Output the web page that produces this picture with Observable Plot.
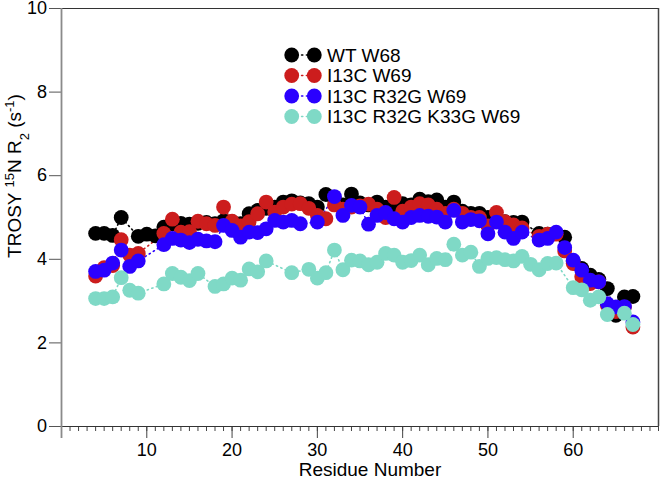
<!DOCTYPE html>
<html><head><meta charset="utf-8">
<script src="https://cdn.jsdelivr.net/npm/d3@7"></script>
<script src="https://cdn.jsdelivr.net/npm/@observablehq/plot@0.6"></script>
<style>body{margin:0;background:#fff} svg{display:block}</style>
</head><body><div id="chart"></div>
<script>
// Residue numbers 4..67
const residues = [4,5,6,7,8,9,10,11,12,13,14,15,16,17,18,19,20,21,22,23,24,25,26,27,28,29,30,31,32,33,34,35,36,37,38,39,40,41,42,43,44,45,46,47,48,49,50,51,52,53,54,55,56,57,58,59,60,61,62,63,64,65,66,67];

const wtW68 = [4.62,4.62,4.57,5.00,null,4.55,4.60,4.56,4.77,4.85,4.86,4.84,4.86,4.88,4.85,4.92,4.90,4.85,5.09,5.17,5.22,5.25,5.37,5.40,5.35,5.33,5.25,5.55,5.45,5.30,5.56,5.35,5.30,5.37,5.25,5.30,5.33,5.30,5.44,5.38,5.42,5.25,5.37,5.15,5.10,5.10,5.00,4.95,4.90,4.88,4.89,null,4.62,4.60,4.62,4.53,3.95,3.78,3.62,3.52,3.30,2.66,3.10,3.11];

const i13cW69 = [3.60,3.80,3.85,4.47,4.10,4.14,null,null,4.62,4.96,4.65,4.66,4.91,4.85,4.81,5.25,4.91,4.80,4.90,5.09,5.37,5.13,5.25,5.32,5.33,5.22,5.05,4.97,5.30,5.20,5.25,5.28,5.32,5.20,5.00,5.48,5.15,5.25,5.33,5.30,5.20,5.10,5.20,5.10,5.00,5.00,4.80,5.12,4.90,4.82,4.75,null,4.55,4.60,4.60,4.20,3.90,3.58,3.42,3.46,2.90,2.75,2.85,2.38];

const i13cR32gW69 = [3.71,3.74,3.91,4.22,3.83,3.96,null,null,4.35,4.50,4.46,4.40,4.48,4.44,4.42,4.81,4.69,4.53,4.65,4.64,4.73,4.93,4.89,4.93,4.85,null,4.89,null,5.50,5.05,5.29,5.25,4.84,5.05,5.12,4.97,4.89,5.00,5.05,5.03,5.01,4.89,5.17,4.89,4.95,4.92,4.61,4.89,4.65,4.50,4.65,null,4.46,4.50,4.65,4.28,3.98,3.74,3.50,3.46,2.94,2.86,2.87,2.50];

const i13cR32gK33gW69 = [3.06,3.06,3.10,3.56,3.26,3.19,null,null,3.41,3.66,3.57,3.49,3.66,null,3.35,3.41,3.55,3.50,3.77,3.70,3.96,null,null,3.68,null,3.76,3.55,3.68,4.22,3.75,3.98,3.96,3.87,3.93,4.14,4.10,3.93,3.97,4.10,3.87,4.02,3.99,4.36,4.10,4.17,3.83,4.02,4.04,3.99,3.96,4.07,3.88,3.75,3.90,3.91,null,3.32,3.27,3.02,3.10,2.68,null,2.71,2.44];

const seriesNames = ["WT W68", "I13C W69", "I13C R32G W69", "I13C R32G K33G W69"];
const seriesColors = ["#000000", "#cc1d1d", "#2a00ff", "#7fd9c6"];
const xTickLabels = [10, 20, 30, 40, 50, 60];
const xMinorTicks = d3.range(0, 71, 1);
const yTicks = [0, 2, 4, 6, 8, 10];

const allSeries = [wtW68, i13cW69, i13cR32gW69, i13cR32gK33gW69];
const rows = [];
allSeries.forEach((vals, si) => vals.forEach((v, i) => {
  if (v != null) rows.push({series: seriesNames[si], residue: residues[i], r2: v});
}));

const font = '"Liberation Sans", Arial, Helvetica, sans-serif';

const plot = Plot.plot({
  width: 660, height: 479,
  marginLeft: 61, marginRight: 2, marginTop: 8, marginBottom: 53,
  style: {fontFamily: font, fontSize: "18px", background: "#fff", color: "#000"},
  x: {domain: [0, 70]},
  y: {domain: [0, 10]},
  color: {domain: seriesNames, range: seriesColors},
  marks: [
    Plot.axisX({ticks: xMinorTicks, tickSize: 5, tickFormat: () => "", label: null, stroke: "#444"}),
    Plot.axisX({ticks: xTickLabels, tickSize: 12, tickPadding: 5, label: null, stroke: "#444", fontSize: 18}),
    Plot.axisY({ticks: yTicks, tickSize: 12, tickPadding: 2.5, label: null, stroke: "#555", fontSize: 18}),
    Plot.ruleY([0], {stroke: "#333", strokeWidth: 1.2}),
    Plot.ruleY([10], {stroke: "#333", strokeWidth: 1.2}),
    Plot.ruleX([70], {stroke: "#444", strokeWidth: 1.5}),
    Plot.ruleX([0], {stroke: "#8a8a8a", strokeWidth: 1.8, insetBottom: -12}),
    Plot.line(rows, {x: "residue", y: "r2", z: "series", stroke: "series", strokeWidth: 1.6, strokeDasharray: "1.2,3.6", strokeLinecap: "round"}),
    Plot.dot(rows, {x: "residue", y: "r2", fill: "series", r: 7.4, stroke: "none"})
  ]
});

const svg = d3.select(plot);
// Legend
const legendY = [55, 75.5, 96, 116.5];
const lg = svg.append("g").attr("font-family", font).attr("font-size", 19).attr("text-anchor", "start");
seriesNames.forEach((name, i) => {
  const y = legendY[i];
  lg.append("line").attr("x1", 292).attr("x2", 314).attr("y1", y).attr("y2", y)
    .attr("stroke", seriesColors[i]).attr("stroke-width", 1.6).attr("stroke-dasharray", "1.2,3.6").attr("stroke-linecap", "round");
  lg.append("circle").attr("cx", 291.7).attr("cy", y).attr("r", 7.4).attr("fill", seriesColors[i]);
  lg.append("circle").attr("cx", 314.3).attr("cy", y).attr("r", 7.4).attr("fill", seriesColors[i]);
  lg.append("text").attr("x", 327).attr("y", y).attr("dy", "0.36em").attr("text-anchor", "start").attr("fill", "#000").text(name);
});

// Axis titles
svg.append("text").attr("x", 370).attr("y", 476).attr("text-anchor", "middle")
  .attr("font-family", font).attr("font-size", 19).attr("fill", "#000").text("Residue Number");

const yl = svg.append("text").attr("transform", "translate(21,176) rotate(-90)").attr("text-anchor", "middle")
  .attr("font-family", font).attr("font-size", 19).attr("fill", "#000");
yl.append("tspan").text("TROSY ");
yl.append("tspan").attr("baseline-shift", "super").attr("font-size", 13).text("15");
yl.append("tspan").text("N R");
yl.append("tspan").attr("baseline-shift", "sub").attr("font-size", 13).text("2");
yl.append("tspan").text(" (s");
yl.append("tspan").attr("baseline-shift", "super").attr("font-size", 13).text("-1");
yl.append("tspan").text(")");

document.getElementById("chart").appendChild(plot);
</script>
</body></html>
